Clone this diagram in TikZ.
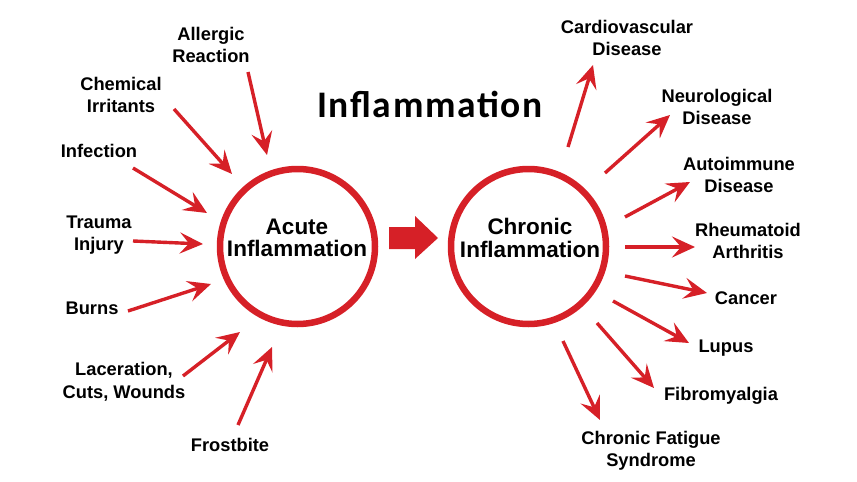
\documentclass[tikz,border=0pt]{standalone}
\usepackage{fontspec}
\setmainfont{Liberation Sans}
\newfontfamily\titlefont[LetterSpace=4.5]{Carlito}
\usetikzlibrary{arrows.meta}
\definecolor{infred}{RGB}{214,32,39}
\begin{document}
\begin{tikzpicture}[x=1pt,y=-1pt,
  lbl/.style={font=\bfseries\fontsize{18.3}{22.5}\selectfont, align=center, inner sep=0pt, text=black},
  ring/.style={circle, draw=infred, line width=6.5pt, minimum size=155pt, inner sep=0pt},
  inner/.style={font=\bfseries\fontsize{22.5}{22.5}\selectfont, align=center, inner sep=0pt},
  arr/.style={draw=infred, line width=3.4pt, -{Stealth[length=23pt,width=21pt,inset=9pt]}}
]
\useasboundingbox (0,0) rectangle (857,482);
% title
\node[font=\titlefont\bfseries\fontsize{37.5}{40}\selectfont, anchor=base, inner sep=0pt] (title) at (430,117) {Inflammation};
% circles
\node[ring] (acute) at (297.5,246.5) {};
\node[ring] (chronic) at (528.5,246.5) {};
\node[inner] (acutetxt) at (297,238) {Acute\\Inflammation};
\node[inner] (chrontxt) at (530,238) {Chronic\\Inflammation};
% big arrow
\fill[infred] (389,227) -- (415,227) -- (415,216) -- (438,238) -- (415,259) -- (415,249) -- (389,249) -- cycle;
% left labels
\node[lbl] (allergic) at (211,45) {Allergic\\Reaction};
\node[lbl] (chemical) at (121,95) {Chemical\\Irritants};
\node[lbl] (infection) at (99,151) {Infection};
\node[lbl] (trauma) at (99,235) {Trauma\\Injury};
\node[lbl] (burns) at (92,308) {Burns};
\node[lbl] (laceration) at (124,382) {Laceration,\\Cuts, Wounds};
\node[lbl] (frostbite) at (230,445) {Frostbite};
% right labels
\node[lbl] (cardio) at (627,38) {Cardiovascular\\Disease};
\node[lbl] (neuro) at (717,107) {Neurological\\Disease};
\node[lbl] (auto) at (739,175) {Autoimmune\\Disease};
\node[lbl] (rheum) at (748,241) {Rheumatoid\\Arthritis};
\node[lbl] (cancer) at (746,298) {Cancer};
\node[lbl] (lupus) at (726,348) {Lupus};
\node[lbl] (fibro) at (721,396) {Fibromyalgia};
\node[lbl] (cfs) at (651,451) {Chronic Fatigue\\Syndrome};
% arrow end points
\coordinate (a1s) at (248,72);  \coordinate (a1e) at (267,155);
\coordinate (a2s) at (174,109); \coordinate (a2e) at (232,174);
\coordinate (a3s) at (133,168); \coordinate (a3e) at (207,213);
\coordinate (a4s) at (133,241); \coordinate (a4e) at (203,244);
\coordinate (a5s) at (128,311); \coordinate (a5e) at (211,284);
\coordinate (a6s) at (183,376); \coordinate (a6e) at (240,332);
\coordinate (a7s) at (238,425); \coordinate (a7e) at (272,347);
\coordinate (b1s) at (568,147); \coordinate (b1e) at (593,65);
\coordinate (b2s) at (605,173); \coordinate (b2e) at (670,115);
\coordinate (b3s) at (625,217); \coordinate (b3e) at (690,182);
\coordinate (b4s) at (625,247); \coordinate (b4e) at (695,247);
\coordinate (b5s) at (625,276); \coordinate (b5e) at (707,293);
\coordinate (b6s) at (613,301); \coordinate (b6e) at (689,343);
\coordinate (b7s) at (597,323); \coordinate (b7e) at (654,388);
\coordinate (b8s) at (563,341); \coordinate (b8e) at (600,420);
\foreach \n in {a1,a2,a3,a4,a5,a6,a7,b1,b2,b3,b4,b5,b6,b7,b8}
  \draw[arr] (\n s) -- (\n e);
\end{tikzpicture}
\end{document}
